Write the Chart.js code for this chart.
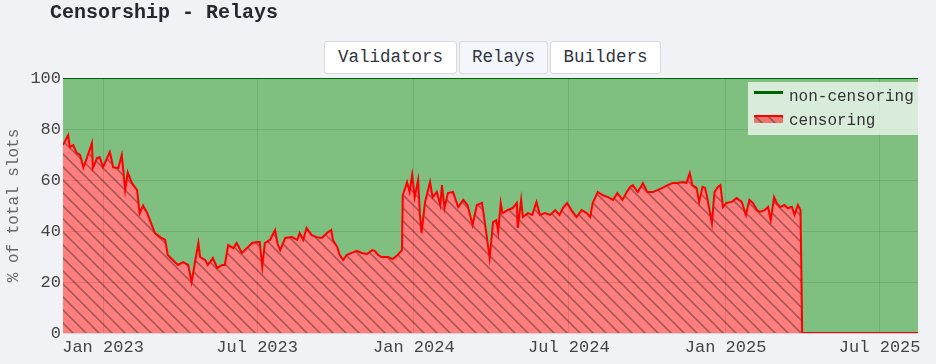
<!DOCTYPE html>
<html><head><meta charset="utf-8">
<script src="https://cdn.jsdelivr.net/npm/chart.js@4.4.1/dist/chart.umd.min.js"></script>
<style>
html,body{margin:0;padding:0;background:#f0f2f6;width:936px;height:364px;overflow:hidden;font-family:"Courier New","Liberation Mono",monospace;}
#wrap{position:relative;width:936px;height:364px;}
#c{position:absolute;left:0;top:0;}
#title{position:absolute;left:50px;top:1px;font-weight:bold;font-size:20px;line-height:24px;color:#262730;}
.btn{position:absolute;top:41px;height:33px;box-sizing:border-box;border:1px solid #d5d9e0;border-radius:3px;background:#fff;font-size:17.5px;color:#31333f;line-height:31px;text-align:center;}
#legend{position:absolute;left:748px;top:82px;width:170px;height:53px;background:rgba(255,255,255,0.7);font-size:16px;color:#333;}
.li{position:absolute;left:41px;line-height:20px;}
</style></head>
<body><div id="wrap">
<canvas id="c" width="936" height="364"></canvas>
<div id="title">Censorship - Relays</div>
<div class="btn" style="left:324px;width:133px">Validators</div>
<div class="btn" style="left:459px;width:89px;background:#f3f6fb">Relays</div>
<div class="btn" style="left:550px;width:111px">Builders</div>
<div id="legend">
  <div style="position:absolute;left:6px;top:9px;width:29px;height:3px;background:#006400"></div>
  <div class="li" style="top:5px">non-censoring</div>
  <canvas id="sw" width="29" height="8" style="position:absolute;left:6px;top:33px"></canvas>
  <div class="li" style="top:29px">censoring</div>
</div>
</div>
<script>
const dates = ["2022-11-15","2022-11-21","2022-11-23","2022-11-27","2022-12-01","2022-12-05","2022-12-09","2022-12-13","2022-12-19","2022-12-20","2022-12-25","2022-12-28",
"2023-01-01","2023-01-09","2023-01-13","2023-01-19","2023-01-23","2023-01-27","2023-01-30","2023-02-04","2023-02-10","2023-02-13","2023-02-17","2023-02-22","2023-02-25",
"2023-03-03","2023-03-09","2023-03-15","2023-03-18","2023-03-24","2023-03-30","2023-04-05","2023-04-11","2023-04-15","2023-04-19","2023-04-23","2023-04-25",
"2023-05-01","2023-05-04","2023-05-10","2023-05-15","2023-05-21","2023-05-24","2023-05-28","2023-06-03","2023-06-07","2023-06-13","2023-06-19","2023-06-25",
"2023-07-01","2023-07-04","2023-07-07","2023-07-10","2023-07-16","2023-07-22","2023-07-25","2023-07-28","2023-08-03","2023-08-11","2023-08-17","2023-08-20","2023-08-24","2023-08-28",
"2023-09-03","2023-09-09","2023-09-15","2023-09-21","2023-09-26","2023-09-28","2023-10-03","2023-10-06","2023-10-10","2023-10-14","2023-10-20","2023-10-26",
"2023-11-01","2023-11-07","2023-11-13","2023-11-16","2023-11-20","2023-11-24","2023-12-02","2023-12-07","2023-12-13","2023-12-18","2023-12-19","2023-12-24","2023-12-27","2023-12-30",
"2024-01-02","2024-01-06","2024-01-08","2024-01-10","2024-01-14","2024-01-20","2024-01-23","2024-01-28","2024-02-01","2024-02-03","2024-02-06","2024-02-10","2024-02-16","2024-02-22","2024-02-28",
"2024-03-04","2024-03-10","2024-03-15","2024-03-21","2024-03-24","2024-03-30","2024-04-03","2024-04-07","2024-04-09","2024-04-12","2024-04-14","2024-04-20","2024-04-26",
"2024-05-01","2024-05-02","2024-05-06","2024-05-08","2024-05-14","2024-05-19","2024-05-24","2024-05-28","2024-06-03","2024-06-09","2024-06-15","2024-06-20","2024-06-24","2024-06-29",
"2024-07-04","2024-07-10","2024-07-16","2024-07-22","2024-07-26","2024-07-29","2024-08-04","2024-08-10","2024-08-16","2024-08-22","2024-08-27",
"2024-09-02","2024-09-07","2024-09-11","2024-09-14","2024-09-20","2024-09-26","2024-10-01","2024-10-08","2024-10-13","2024-10-19","2024-10-25","2024-10-31",
"2024-11-06","2024-11-12","2024-11-16","2024-11-20","2024-11-23","2024-11-28","2024-12-01","2024-12-05","2024-12-08","2024-12-11","2024-12-16","2024-12-19","2024-12-23","2024-12-26","2024-12-29",
"2025-01-02","2025-01-08","2025-01-14","2025-01-20","2025-01-25","2025-01-29","2025-02-02","2025-02-07","2025-02-10","2025-02-16","2025-02-20","2025-02-23","2025-02-27",
"2025-03-02","2025-03-06","2025-03-11","2025-03-15","2025-03-20","2025-03-23","2025-03-27","2025-03-30","2025-03-31","2025-04-01","2025-05-01","2025-06-01","2025-07-01","2025-08-01","2025-08-15"];
const censoring = [73.7,77.6,73.0,73.7,70.6,69.8,65.0,68.6,74.5,64.7,68.6,69.0,
65.0,71.0,65.0,64.7,69.8,56.0,63.0,58.8,56.0,47.0,50.0,47.0,44.3,
39.2,37.6,36.5,30.6,28.6,26.7,27.8,26.7,20.0,27.8,35.3,29.8,
28.6,26.7,29.4,25.5,26.7,26.7,34.5,33.3,35.3,31.4,33.3,35.3,
35.7,35.7,25.9,35.3,36.5,40.4,35.0,32.5,37.3,37.6,36.5,39.2,36.5,41.2,
38.4,37.6,37.3,39.2,40.4,36.5,33.7,30.6,28.6,30.6,31.4,32.2,
31.4,31.0,32.5,32.2,30.6,29.8,29.8,29.0,30.6,32.5,54.0,59.2,55.3,62.0,
53.3,60.0,47.0,39.2,51.0,59.2,53.3,55.3,50.2,58.0,49.0,54.9,55.3,49.4,52.2,
50.2,42.4,50.2,51.0,44.3,29.4,43.5,44.3,39.6,51.0,47.0,48.2,49.0,
51.0,41.2,52.2,45.5,47.0,46.3,51.4,46.3,47.0,46.3,48.2,46.3,49.0,51.0,
48.2,45.5,48.2,47.0,45.5,51.0,55.3,54.0,53.3,52.2,54.9,
52.2,55.3,57.3,58.0,55.3,58.8,55.3,55.3,56.0,56.9,58.0,58.8,
58.8,59.2,58.8,62.7,58.0,56.9,51.4,57.3,56.9,52.2,43.1,55.3,57.3,58.0,49.4,
51.0,51.4,52.9,51.4,46.3,52.2,51.0,48.2,47.5,48.2,49.4,44.3,53.3,
51.0,49.4,50.2,49.0,49.4,46.3,50.2,48.2,25.9,0,0,0,0,0,0];
const tickDates = ["2023-01-01","2023-07-01","2024-01-01","2024-07-01","2025-01-01","2025-07-01"];
const xRange = ["2022-11-15","2025-08-15"];
const seriesNames = ["censoring","non-censoring"];

const MONTHS = ["Jan","Feb","Mar","Apr","May","Jun","Jul","Aug","Sep","Oct","Nov","Dec"];
const BASE = Date.UTC(2023,0,1);
const toDay = s => Math.round((Date.parse(s+"T00:00:00Z") - BASE)/86400000);
const FONT = '"Courier New","Liberation Mono",monospace';

function hatch(w,h){
  const s=13, c=document.createElement('canvas'); c.width=s; c.height=s;
  const g=c.getContext('2d');
  g.fillStyle='rgba(255,0,0,0.5)'; g.fillRect(0,0,s,s);
  g.strokeStyle='rgba(0,0,0,0.33)'; g.lineWidth=1.6;
  g.beginPath();
  g.moveTo(-2,-2); g.lineTo(s+2,s+2);
  g.moveTo(s-2,-2); g.lineTo(s+2,2);
  g.moveTo(-2,s-2); g.lineTo(2,s+2);
  g.stroke();
  return c;
}
const tile = hatch();
const ctx = document.getElementById('c').getContext('2d');
const pattern = ctx.createPattern(tile,'repeat');

// legend swatch
(function(){
  const sc=document.getElementById('sw').getContext('2d');
  sc.fillStyle=sc.createPattern(tile,'repeat'); sc.fillRect(0,0,29,8);
  sc.fillStyle='#ff0000'; sc.fillRect(0,0,29,2);
})();

const xs = dates.map(toDay);
const censData = xs.map((x,i)=>({x, y: censoring[i]}));
const nonData = xs.map((x,i)=>({x, y: Math.round((100-censoring[i])*10)/10}));

const bgPlugin = {id:'bg', beforeDraw(ch){const a=ch.chartArea,c=ch.ctx;c.save();c.fillStyle='#ffffff';c.fillRect(a.left,a.top,a.right-a.left,a.bottom-a.top);c.restore();}};

new Chart(ctx,{
  type:'line',
  data:{datasets:[
    {label:seriesNames[0], data:censData, borderColor:'#ff0000', borderWidth:2, backgroundColor:pattern, fill:'origin', pointRadius:0, tension:0},
    {label:seriesNames[1], data:nonData, borderColor:'#006400', borderWidth:2, backgroundColor:'rgba(0,128,0,0.5)', fill:'-1', pointRadius:0, tension:0}
  ]},
  options:{
    responsive:false, animation:false,
    layout:{padding:{top:78,right:18,left:0,bottom:0}},
    plugins:{legend:{display:false}, tooltip:{enabled:false}},
    scales:{
      x:{type:'linear', min:toDay(xRange[0]), max:toDay(xRange[1]),
        afterBuildTicks(s){ s.ticks = tickDates.map(d=>({value:toDay(d)})); },
        afterFit(s){ s.height = 31; },
        ticks:{autoSkip:false, maxRotation:0, padding:4, color:'#444', font:{family:FONT,size:17},
          callback(v){ const d=new Date(BASE+v*86400000); return MONTHS[d.getUTCMonth()]+' '+d.getUTCFullYear(); }},
        grid:{color:'rgba(0,0,0,0.13)', drawTicks:false}, border:{display:false}},
      y:{stacked:true, min:0, max:100,
        afterFit(s){ s.width = 63; },
        ticks:{stepSize:20, padding:2, color:'#444', font:{family:FONT,size:17}},
        title:{display:true, text:'% of total slots', color:'#666', font:{family:FONT,size:16}, padding:{top:4,bottom:4}},
        grid:{color:'rgba(0,0,0,0.13)', drawTicks:false}, border:{display:false}}
    }
  },
  plugins:[bgPlugin]
});
</script>
</body></html>
